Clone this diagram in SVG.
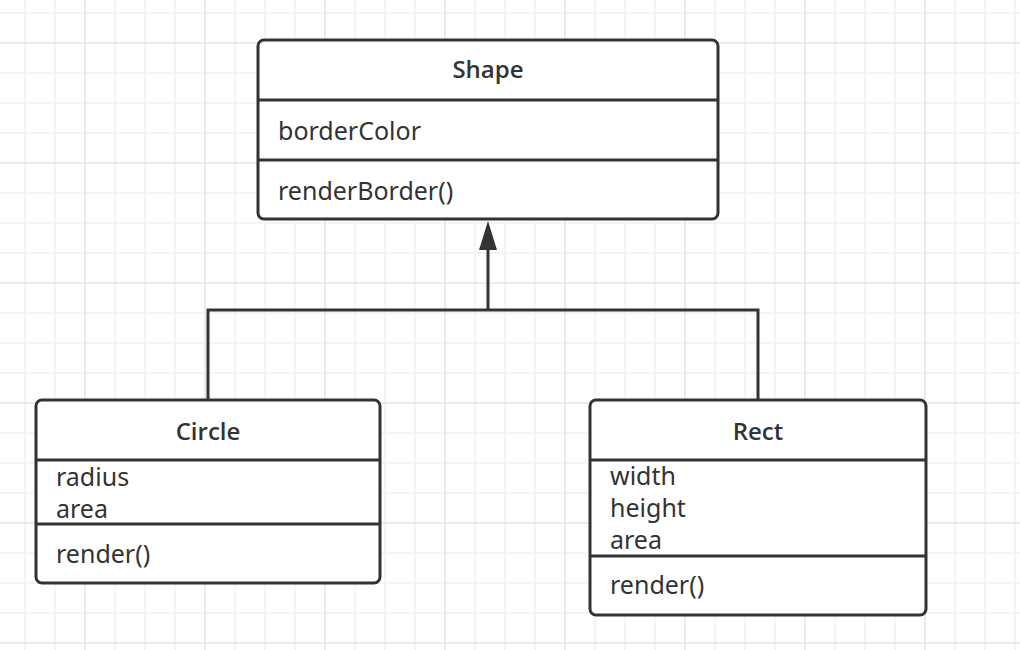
<svg xmlns="http://www.w3.org/2000/svg" width="1020" height="650" viewBox="0 0 1020 650">
<defs>
<pattern id="minor" patternUnits="userSpaceOnUse" x="10" y="-2" width="30" height="30">
<rect x="14" y="0" width="2" height="30" fill="#f4f4f4"/>
<rect x="0" y="14" width="30" height="2" fill="#f4f4f4"/>
</pattern>
<pattern id="major" patternUnits="userSpaceOnUse" x="25" y="-17" width="120" height="120">
<rect x="59" y="0" width="2" height="120" fill="#ebebeb"/>
<rect x="0" y="59" width="120" height="2" fill="#ebebeb"/>
</pattern>
</defs>
<style>
.box{fill:#ffffff;stroke:#333333;stroke-width:3}
.div{stroke:#333333;stroke-width:3;fill:none}
.title{font-family:"Open Sans","Noto Sans","Liberation Sans",sans-serif;font-size:24px;font-weight:600;fill:#333333;text-anchor:middle}
.txt{font-family:"Noto Sans","Liberation Sans",sans-serif;font-size:25px;fill:#333333}
.conn{stroke:#333333;stroke-width:3;fill:none}
</style>
<rect width="1020" height="650" fill="#ffffff"/>
<rect width="1020" height="650" fill="url(#minor)"/>
<rect width="1020" height="650" fill="url(#major)"/>
<g id="connectors">
<path class="conn" d="M488 248 V310 M208 400 V310 H758 V400"/>
<polygon points="488,221 479,250 497,250" fill="#333333"/>
</g>
<g id="shape">
<rect class="box" x="258" y="40" width="460" height="179" rx="6"/>
<path class="div" d="M258 100 H718 M258 160 H718"/>
<text class="title" x="488" y="78">Shape</text>
<text class="txt" x="278" y="140">borderColor</text>
<text class="txt" x="278" y="200">renderBorder()</text>
</g>
<g id="circle">
<rect class="box" x="36" y="400" width="344" height="183" rx="6"/>
<path class="div" d="M36 460 H380 M36 524 H380"/>
<text class="title" x="208" y="440">Circle</text>
<text class="txt" x="56" y="486">radius</text>
<text class="txt" x="56" y="518">area</text>
<text class="txt" x="56" y="563">render()</text>
</g>
<g id="rect">
<rect class="box" x="590" y="400" width="336" height="215" rx="6"/>
<path class="div" d="M590 460 H926 M590 556 H926"/>
<text class="title" x="758" y="440">Rect</text>
<text class="txt" x="610" y="485">width</text>
<text class="txt" x="610" y="517">height</text>
<text class="txt" x="610" y="549">area</text>
<text class="txt" x="610" y="594">render()</text>
</g>
</svg>
